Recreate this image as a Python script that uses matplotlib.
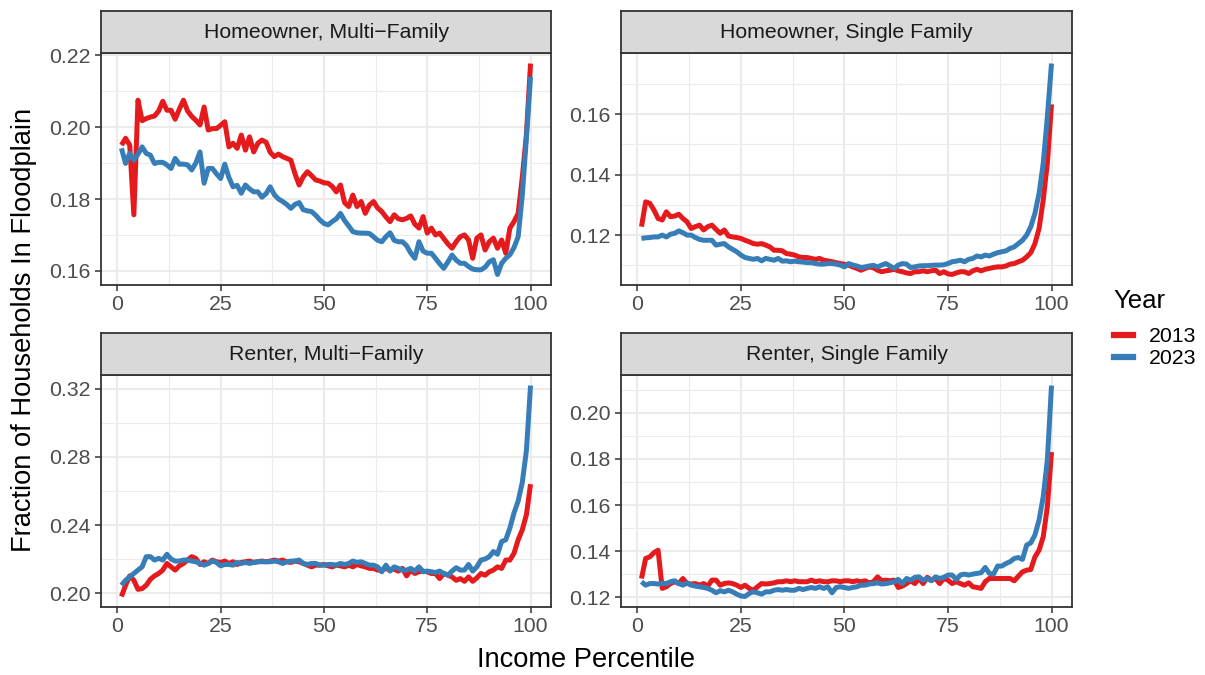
import numpy as np
import matplotlib
matplotlib.use("Agg")
import matplotlib.pyplot as plt
from matplotlib.lines import Line2D

plt.rcParams["font.family"] = ["Liberation Sans", "DejaVu Sans"]

percentile = np.arange(1, 101)

# Homeowner, Multi-Family
own_multi_2013 = [
    0.1950, 0.1969, 0.1950, 0.1756, 0.2075, 0.2018, 0.2024, 0.2028, 0.2031, 0.2045,
    0.2072, 0.2047, 0.2047, 0.2022, 0.2050, 0.2075, 0.2045, 0.2030, 0.2019, 0.2006,
    0.2056, 0.1992, 0.1996, 0.1996, 0.2005, 0.2015, 0.1945, 0.1955, 0.1941, 0.1978,
    0.1936, 0.1973, 0.1931, 0.1955, 0.1964, 0.1958, 0.1930, 0.1918, 0.1925, 0.1918,
    0.1913, 0.1908, 0.1870, 0.1839, 0.1862, 0.1876, 0.1865, 0.1853, 0.1850, 0.1845,
    0.1844, 0.1835, 0.1820, 0.1839, 0.1790, 0.1779, 0.1811, 0.1779, 0.1793, 0.1760,
    0.1783, 0.1793, 0.1775, 0.1765, 0.1750, 0.1737, 0.1756, 0.1745, 0.1742, 0.1746,
    0.1753, 0.1730, 0.1719, 0.1751, 0.1705, 0.1719, 0.1700, 0.1705, 0.1690, 0.1675,
    0.1663, 0.1681, 0.1695, 0.1700, 0.1686, 0.1635, 0.1691, 0.1700, 0.1658, 0.1681,
    0.1691, 0.1663, 0.1686, 0.1649, 0.1719, 0.1737, 0.1760, 0.1860, 0.1980, 0.2177,
]
own_multi_2023 = [
    0.1941, 0.1899, 0.1927, 0.1908, 0.1925, 0.1945, 0.1927, 0.1922, 0.1899, 0.1902,
    0.1902, 0.1895, 0.1885, 0.1913, 0.1897, 0.1897, 0.1895, 0.1881, 0.1900, 0.1931,
    0.1844, 0.1885, 0.1885, 0.1870, 0.1857, 0.1897, 0.1860, 0.1834, 0.1838, 0.1816,
    0.1839, 0.1828, 0.1820, 0.1820, 0.1805, 0.1815, 0.1834, 0.1812, 0.1800, 0.1793,
    0.1785, 0.1774, 0.1785, 0.1790, 0.1770, 0.1767, 0.1765, 0.1755, 0.1742, 0.1732,
    0.1728, 0.1737, 0.1745, 0.1760, 0.1740, 0.1725, 0.1709, 0.1706, 0.1705, 0.1705,
    0.1704, 0.1695, 0.1685, 0.1681, 0.1695, 0.1706, 0.1685, 0.1681, 0.1681, 0.1670,
    0.1650, 0.1635, 0.1681, 0.1655, 0.1649, 0.1649, 0.1635, 0.1620, 0.1607, 0.1625,
    0.1644, 0.1630, 0.1621, 0.1621, 0.1612, 0.1605, 0.1603, 0.1603, 0.1610, 0.1625,
    0.1631, 0.1590, 0.1621, 0.1635, 0.1645, 0.1665, 0.1695, 0.1810, 0.1970, 0.2140,
]

# Homeowner, Single Family
own_single_2013 = [
    0.1228, 0.1310, 0.1305, 0.1283, 0.1255, 0.1250, 0.1277, 0.1261, 0.1263, 0.1269,
    0.1255, 0.1244, 0.1222, 0.1228, 0.1233, 0.1217, 0.1228, 0.1233, 0.1219, 0.1206,
    0.1217, 0.1197, 0.1194, 0.1192, 0.1189, 0.1183, 0.1178, 0.1172, 0.1170, 0.1172,
    0.1167, 0.1161, 0.1150, 0.1150, 0.1148, 0.1139, 0.1137, 0.1134, 0.1128, 0.1126,
    0.1126, 0.1123, 0.1120, 0.1123, 0.1117, 0.1115, 0.1112, 0.1109, 0.1106, 0.1104,
    0.1101, 0.1095, 0.1090, 0.1084, 0.1090, 0.1095, 0.1092, 0.1084, 0.1079, 0.1082,
    0.1084, 0.1087, 0.1082, 0.1079, 0.1075, 0.1073, 0.1079, 0.1079, 0.1082, 0.1079,
    0.1082, 0.1084, 0.1073, 0.1079, 0.1072, 0.1070, 0.1075, 0.1079, 0.1079, 0.1073,
    0.1082, 0.1087, 0.1082, 0.1087, 0.1090, 0.1093, 0.1095, 0.1095, 0.1098, 0.1104,
    0.1106, 0.1112, 0.1117, 0.1128, 0.1142, 0.1172, 0.1222, 0.1316, 0.1437, 0.1632,
]
own_single_2023 = [
    0.1189, 0.1191, 0.1192, 0.1194, 0.1194, 0.1200, 0.1194, 0.1203, 0.1206, 0.1214,
    0.1208, 0.1200, 0.1200, 0.1192, 0.1186, 0.1183, 0.1183, 0.1183, 0.1167, 0.1170,
    0.1172, 0.1161, 0.1153, 0.1145, 0.1134, 0.1126, 0.1123, 0.1120, 0.1123, 0.1115,
    0.1123, 0.1120, 0.1117, 0.1123, 0.1114, 0.1115, 0.1112, 0.1114, 0.1112, 0.1111,
    0.1109, 0.1109, 0.1106, 0.1104, 0.1104, 0.1106, 0.1106, 0.1104, 0.1101, 0.1095,
    0.1106, 0.1101, 0.1098, 0.1093, 0.1095, 0.1098, 0.1100, 0.1095, 0.1101, 0.1106,
    0.1098, 0.1090, 0.1101, 0.1106, 0.1104, 0.1093, 0.1095, 0.1098, 0.1099, 0.1099,
    0.1100, 0.1101, 0.1101, 0.1102, 0.1106, 0.1112, 0.1114, 0.1117, 0.1112, 0.1120,
    0.1123, 0.1131, 0.1128, 0.1134, 0.1131, 0.1137, 0.1142, 0.1145, 0.1148, 0.1156,
    0.1161, 0.1172, 0.1183, 0.1200, 0.1228, 0.1272, 0.1338, 0.1437, 0.1591, 0.1767,
]

# Renter, Multi-Family
rent_multi_2013 = [
    0.1980, 0.2046, 0.2101, 0.2075, 0.2022, 0.2026, 0.2046, 0.2081, 0.2101, 0.2115,
    0.2135, 0.2174, 0.2154, 0.2135, 0.2160, 0.2174, 0.2194, 0.2214, 0.2204, 0.2168,
    0.2184, 0.2174, 0.2194, 0.2184, 0.2180, 0.2188, 0.2174, 0.2184, 0.2168, 0.2180,
    0.2184, 0.2188, 0.2180, 0.2184, 0.2188, 0.2184, 0.2188, 0.2194, 0.2188, 0.2194,
    0.2184, 0.2180, 0.2188, 0.2184, 0.2174, 0.2164, 0.2154, 0.2164, 0.2164, 0.2168,
    0.2160, 0.2154, 0.2164, 0.2160, 0.2154, 0.2164, 0.2154, 0.2168, 0.2160, 0.2154,
    0.2145, 0.2145, 0.2135, 0.2135, 0.2145, 0.2135, 0.2141, 0.2129, 0.2145, 0.2101,
    0.2135, 0.2115, 0.2125, 0.2129, 0.2125, 0.2115, 0.2115, 0.2085, 0.2115, 0.2105,
    0.2095, 0.2075, 0.2085, 0.2069, 0.2095, 0.2069, 0.2089, 0.2115, 0.2105, 0.2125,
    0.2135, 0.2154, 0.2145, 0.2194, 0.2194, 0.2234, 0.2313, 0.2372, 0.2461, 0.2640,
]
rent_multi_2023 = [
    0.2046, 0.2075, 0.2095, 0.2115, 0.2135, 0.2154, 0.2214, 0.2214, 0.2194, 0.2204,
    0.2194, 0.2228, 0.2200, 0.2188, 0.2188, 0.2194, 0.2194, 0.2188, 0.2184, 0.2174,
    0.2164, 0.2174, 0.2188, 0.2180, 0.2160, 0.2168, 0.2168, 0.2164, 0.2180, 0.2174,
    0.2180, 0.2174, 0.2180, 0.2184, 0.2184, 0.2184, 0.2184, 0.2188, 0.2184, 0.2174,
    0.2184, 0.2188, 0.2188, 0.2194, 0.2174, 0.2168, 0.2174, 0.2174, 0.2164, 0.2164,
    0.2168, 0.2168, 0.2164, 0.2174, 0.2168, 0.2174, 0.2188, 0.2180, 0.2184, 0.2174,
    0.2164, 0.2164, 0.2154, 0.2125, 0.2164, 0.2129, 0.2154, 0.2145, 0.2135, 0.2135,
    0.2145, 0.2129, 0.2154, 0.2125, 0.2129, 0.2125, 0.2121, 0.2129, 0.2115, 0.2105,
    0.2129, 0.2149, 0.2135, 0.2135, 0.2168, 0.2129, 0.2154, 0.2194, 0.2200, 0.2214,
    0.2244, 0.2228, 0.2303, 0.2313, 0.2382, 0.2471, 0.2541, 0.2650, 0.2838, 0.3220,
]

# Renter, Single Family
rent_single_2013 = [
    0.1281, 0.1368, 0.1375, 0.1393, 0.1404, 0.1238, 0.1245, 0.1259, 0.1267, 0.1259,
    0.1281, 0.1259, 0.1257, 0.1259, 0.1252, 0.1259, 0.1248, 0.1274, 0.1274, 0.1252,
    0.1259, 0.1262, 0.1259, 0.1252, 0.1242, 0.1252, 0.1238, 0.1230, 0.1245, 0.1259,
    0.1257, 0.1259, 0.1262, 0.1267, 0.1267, 0.1271, 0.1267, 0.1271, 0.1267, 0.1267,
    0.1267, 0.1274, 0.1267, 0.1271, 0.1267, 0.1267, 0.1271, 0.1271, 0.1267, 0.1271,
    0.1271, 0.1267, 0.1271, 0.1267, 0.1271, 0.1262, 0.1267, 0.1288, 0.1271, 0.1274,
    0.1271, 0.1274, 0.1242, 0.1248, 0.1259, 0.1271, 0.1259, 0.1281, 0.1259, 0.1286,
    0.1274, 0.1281, 0.1259, 0.1281, 0.1274, 0.1259, 0.1267, 0.1259, 0.1252, 0.1262,
    0.1245, 0.1242, 0.1238, 0.1267, 0.1281, 0.1281, 0.1281, 0.1281, 0.1281, 0.1281,
    0.1271, 0.1291, 0.1310, 0.1317, 0.1320, 0.1375, 0.1404, 0.1462, 0.1593, 0.1830,
]
rent_single_2023 = [
    0.1267, 0.1252, 0.1259, 0.1259, 0.1257, 0.1259, 0.1259, 0.1267, 0.1271, 0.1259,
    0.1252, 0.1262, 0.1252, 0.1248, 0.1245, 0.1242, 0.1238, 0.1230, 0.1219, 0.1228,
    0.1223, 0.1230, 0.1223, 0.1213, 0.1205, 0.1203, 0.1216, 0.1223, 0.1219, 0.1213,
    0.1223, 0.1223, 0.1230, 0.1233, 0.1230, 0.1233, 0.1230, 0.1230, 0.1238, 0.1233,
    0.1238, 0.1242, 0.1238, 0.1245, 0.1238, 0.1245, 0.1219, 0.1242, 0.1245, 0.1242,
    0.1238, 0.1242, 0.1245, 0.1252, 0.1252, 0.1257, 0.1259, 0.1262, 0.1257, 0.1259,
    0.1262, 0.1267, 0.1277, 0.1259, 0.1281, 0.1274, 0.1286, 0.1288, 0.1274, 0.1281,
    0.1271, 0.1288, 0.1281, 0.1286, 0.1296, 0.1296, 0.1277, 0.1296, 0.1300, 0.1296,
    0.1300, 0.1303, 0.1306, 0.1329, 0.1303, 0.1300, 0.1335, 0.1335, 0.1346, 0.1354,
    0.1368, 0.1372, 0.1364, 0.1426, 0.1436, 0.1470, 0.1535, 0.1636, 0.1796, 0.2119,
]

years = ["2013", "2023"]
colors = {"2013": "#E41A1C", "2023": "#377EB8"}

panels = [
    ("Homeowner, Multi\u2212Family", own_multi_2013, own_multi_2023, [0.16, 0.18, 0.20, 0.22]),
    ("Homeowner, Single Family", own_single_2013, own_single_2023, [0.12, 0.14, 0.16]),
    ("Renter, Multi\u2212Family", rent_multi_2013, rent_multi_2023, [0.20, 0.24, 0.28, 0.32]),
    ("Renter, Single Family", rent_single_2013, rent_single_2023, [0.12, 0.14, 0.16, 0.18, 0.20]),
]

W, H = 1205, 675
fig = plt.figure(figsize=(W / 100, H / 100), dpi=100)

# panel boxes in pixels: left, top, right, bottom (plot area only)
boxes = [
    (101, 53, 551, 285),
    (621, 53, 1072, 285),
    (101, 375, 551, 607),
    (621, 375, 1072, 607),
]
strip_h = 42
dark = "#333333"
grid_col = "#EBEBEB"
small = 15.3
big = 19.6

for (title, y13, y23, yticks), (l, t, r, b) in zip(panels, boxes):
    ax = fig.add_axes([l / W, 1 - b / H, (r - l) / W, (b - t) / H])
    ax.plot(percentile, y13, color=colors["2013"], lw=3.6, solid_capstyle="butt", zorder=3)
    ax.plot(percentile, y23, color=colors["2023"], lw=3.6, solid_capstyle="butt", zorder=3)
    ax.margins(x=0.05, y=0.05)
    xlim, ylim = ax.get_xlim(), ax.get_ylim()

    ax.set_xticks([0, 25, 50, 75, 100])
    ax.set_xticks([12.5, 37.5, 62.5, 87.5], minor=True)
    ax.set_yticks(yticks)
    step = yticks[1] - yticks[0]
    ax.set_yticks([v + step / 2 for v in [yticks[0] - step] + yticks], minor=True)
    ax.set_yticklabels([f"{v:.2f}" for v in yticks])
    ax.set_xlim(xlim)
    ax.set_ylim(ylim)

    ax.grid(which="major", color=grid_col, lw=1.5)
    ax.grid(which="minor", color=grid_col, lw=0.8)
    ax.set_axisbelow(True)
    for s in ax.spines.values():
        s.set_color(dark)
        s.set_linewidth(1.3)
    ax.tick_params(which="major", direction="out", length=4.5, width=1.1, color=dark,
                   labelsize=small, labelcolor="#4D4D4D", pad=3)
    ax.tick_params(which="minor", length=0)

    # facet strip
    sax = fig.add_axes([l / W, 1 - t / H, (r - l) / W, strip_h / H])
    sax.set_facecolor("#D9D9D9")
    sax.set_xticks([])
    sax.set_yticks([])
    for s in sax.spines.values():
        s.set_color(dark)
        s.set_linewidth(1.3)
    sax.text(0.5, 0.5, title, ha="center", va="center", fontsize=small, color="#1A1A1A",
             transform=sax.transAxes)

fig.text(586 / W, 1 - 660 / H, "Income Percentile", ha="center", va="center", fontsize=big)
fig.text(24 / W, 1 - 330 / H, "Fraction of Households In Floodplain", ha="center", va="center",
         rotation=90, fontsize=big)

fig.text(1113 / W, 1 - 301 / H, "Year", ha="left", va="center", fontsize=18.5)
handles = [Line2D([], [], color=colors[y], lw=4.5) for y in years]
fig.legend(handles, years, loc="upper left", bbox_to_anchor=(1114 / W, 1 - 327 / H),
           frameon=False, fontsize=small, handlelength=0.9, handletextpad=0.75,
           labelspacing=0.15, borderpad=0, borderaxespad=0)

fig.savefig("out.png", dpi=100)
